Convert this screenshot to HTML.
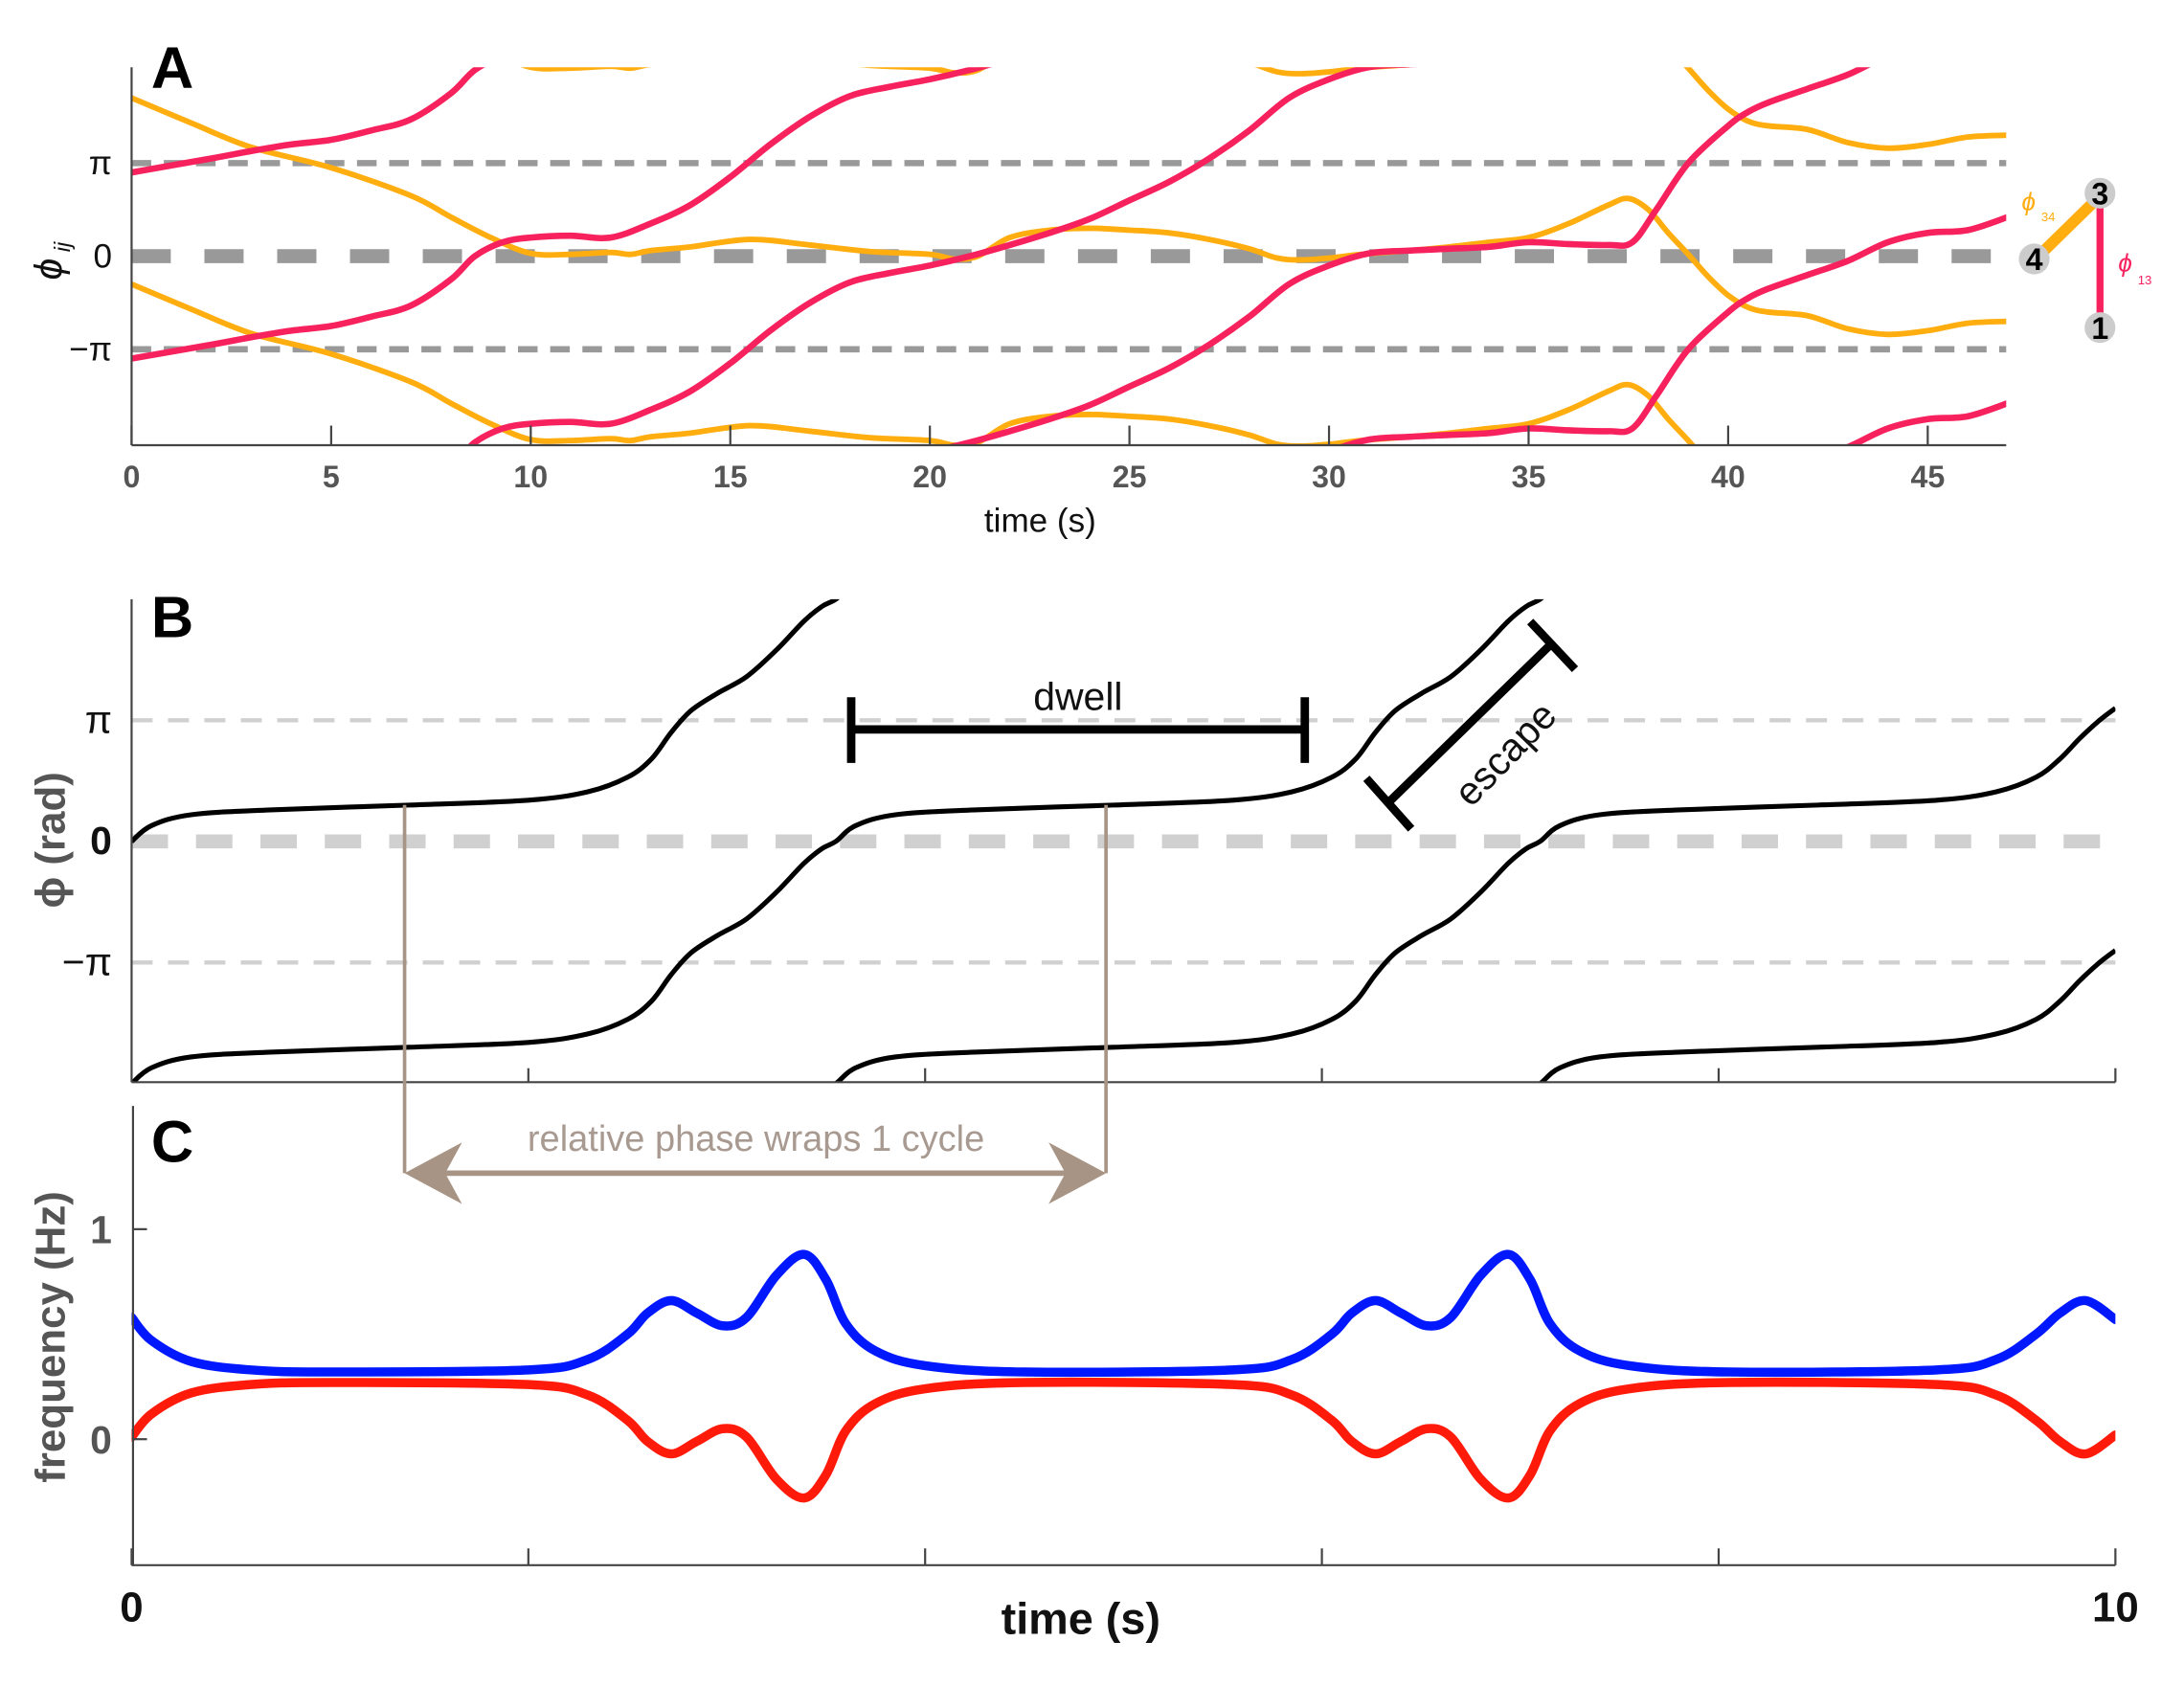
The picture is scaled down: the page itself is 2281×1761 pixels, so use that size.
<!DOCTYPE html>
<html><head><meta charset="utf-8">
<style>
html,body{margin:0;padding:0;background:#fff;width:2281px;height:1761px;overflow:hidden;}
svg{display:block;}
text{font-family:"Liberation Sans",sans-serif;}
</style></head>
<body>
<svg id="fig" width="2281" height="1761" viewBox="0 0 1560 1204.3" preserveAspectRatio="none" xmlns="http://www.w3.org/2000/svg" overflow="hidden">
<defs>
<clipPath id="clipA"><rect x="94" y="48" width="1339" height="270"/></clipPath>
<clipPath id="clipB"><rect x="94" y="428" width="1417" height="345"/></clipPath>
<clipPath id="clipC"><rect x="94" y="790" width="1417" height="328"/></clipPath>
</defs>
<g id="panelA"></g>
<g id="panelB"></g>
<g id="panelC"></g>
</svg>
<script>
// ---- Panel A data (time s, phase in units of pi, unwrapped) ----
const aRedT = [0,2,3,4,5,6,7,8,8.6,9.3,10,11,12,13,14,15,16,17,18,19,20,21,22,23,24,25,26,27,28,29,30,31,32,33,34,35,36,37,37.6,38.2,39,40,40.5,41,42,43,44,45,46,47];
const aRedV = [0.9,1.05,1.13,1.2,1.25,1.35,1.47,1.75,2.0,2.15,2.2,2.22,2.2,2.35,2.55,2.85,3.2,3.5,3.72,3.82,3.9,4.0,4.12,4.25,4.4,4.6,4.8,5.05,5.35,5.7,5.9,6.03,6.06,6.08,6.1,6.15,6.13,6.12,6.15,6.5,7.0,7.4,7.55,7.65,7.8,7.95,8.15,8.25,8.28,8.42];
const aOrT = [0,1.5,3,5,7,8,9,10,11,12,12.5,13,14,15.5,17,18.5,20,20.6,21.2,22,23,24,25,26,27,28,28.7,29.3,30,30.8,32,33,34,35,36,37,37.5,38,38.5,39,39.5,40,40.5,41,42,43,44,45,46,47];
const aOrV = [1.7,1.43,1.17,0.95,0.65,0.42,0.2,0.03,0.02,0.04,0.02,0.06,0.1,0.18,0.12,0.05,0.02,-0.03,0.0,0.2,0.28,0.3,0.28,0.25,0.18,0.08,-0.02,-0.04,-0.02,0.02,0.06,0.1,0.15,0.2,0.35,0.55,0.62,0.5,0.25,0.02,-0.22,-0.42,-0.55,-0.6,-0.64,-0.78,-0.84,-0.8,-0.72,-0.7];
const aXTicks = [0,5,10,15,20,25,30,35,40,45];
const aYTicks = [1,0,-1];
const aYTickLabels = ["\u03c0","0","\u2212\u03c0"];

// ---- Panel B data (time s, relative phase in units of pi, unwrapped) ----
const bT = [0,0.1,0.3,0.7,1.4,2.0,2.3,2.5,2.62,2.72,2.82,2.95,3.1,3.25,3.39,3.48,3.55,3.65,3.85,4.25,4.95,5.55,5.85,6.05,6.17,6.27,6.37,6.5,6.65,6.8,6.94,7.03,7.1,7.2,7.4,7.8,8.5,9.1,9.4,9.6,9.72,9.82,9.92,10.0];
const bPhi = [0,0.13,0.22,0.26,0.3,0.34,0.41,0.53,0.68,0.9,1.08,1.22,1.36,1.58,1.82,1.94,2.0,2.13,2.22,2.26,2.3,2.34,2.41,2.53,2.68,2.9,3.08,3.22,3.36,3.58,3.82,3.94,4.0,4.13,4.22,4.26,4.3,4.34,4.41,4.53,4.68,4.85,5.0,5.1];
const bYTicks = [1,0,-1];
const bYTickLabels = ["\u03c0","0","\u2212\u03c0"];
const bXTicks = [2,4,6,8];

// ---- Panel C data (time s, frequency Hz) ----
const cT = [0,0.1,0.3,0.6,1.0,2.0,2.3,2.5,2.6,2.72,2.85,2.98,3.1,3.25,3.39,3.5,3.6,3.75,4.0,4.5,5.55,5.85,6.05,6.15,6.27,6.4,6.53,6.65,6.8,6.94,7.05,7.15,7.3,7.55,8.05,9.1,9.4,9.6,9.72,9.85,10.0];
const cBlue = [0.58,0.47,0.37,0.33,0.32,0.33,0.38,0.5,0.6,0.66,0.6,0.54,0.58,0.78,0.88,0.76,0.55,0.42,0.35,0.32,0.33,0.38,0.5,0.6,0.66,0.6,0.54,0.58,0.78,0.88,0.76,0.55,0.42,0.35,0.32,0.33,0.38,0.5,0.6,0.66,0.57];
const cRed = [0.01,0.12,0.22,0.26,0.27,0.26,0.21,0.09,-0.01,-0.07,-0.01,0.05,0.01,-0.19,-0.28,-0.17,0.04,0.17,0.24,0.27,0.26,0.21,0.09,-0.01,-0.07,-0.01,0.05,0.01,-0.19,-0.28,-0.17,0.04,0.17,0.24,0.27,0.26,0.21,0.09,-0.01,-0.07,0.02];
const cYTicks = [1,0];
const cXTicks = [0,2,4,6,8,10];

const NS = "http://www.w3.org/2000/svg";
function mk(tag, attrs, parent){const e=document.createElementNS(NS,tag);for(const k in attrs)e.setAttribute(k,attrs[k]);if(parent)parent.appendChild(e);return e;}
function smooth(pts){
  let d="M"+pts[0][0].toFixed(2)+","+pts[0][1].toFixed(2);
  for(let i=0;i<pts.length-1;i++){
    const p0=pts[Math.max(0,i-1)],p1=pts[i],p2=pts[i+1],p3=pts[Math.min(pts.length-1,i+2)];
    const c1x=p1[0]+(p2[0]-p0[0])/6,c1y=p1[1]+(p2[1]-p0[1])/6;
    const c2x=p2[0]-(p3[0]-p1[0])/6,c2y=p2[1]-(p3[1]-p1[1])/6;
    d+=" C"+c1x.toFixed(2)+","+c1y.toFixed(2)+" "+c2x.toFixed(2)+","+c2y.toFixed(2)+" "+p2[0].toFixed(2)+","+p2[1].toFixed(2);
  }
  return d;
}
// keep wrapped copies inside a band just beyond the plot (clip hides the rest)
function clampPts(pts,top,bot){return pts.map(p=>[p[0],Math.max(top-25,Math.min(bot+25,p[1]))]);}
function visible(pts,top,bot){return pts.some(p=>p[1]>=top-3&&p[1]<=bot+3);}
function txt(parent,x,y,s,attrs){const t=mk("text",Object.assign({x:x,y:y},attrs),parent);t.textContent=s;return t;}

// ================= Panel A =================
const A=document.getElementById("panelA");
const axX=t=>94+t*28.51, axY=v=>183-v*66.5;
let l;
l=mk("line",{x1:94,x2:1433,y1:axY(0),y2:axY(0),stroke:"#999",'stroke-width':10,'stroke-dasharray':"28 24"},A);


[1,-1].forEach(v=>{
  const ln=mk("line",{x1:94,x2:1433,y1:axY(v),y2:axY(v),stroke:"#999",'stroke-width':4.5,'stroke-dasharray':"14 9"},A);
  
  
});
const gA=mk("g",{'clip-path':"url(#clipA)"},A);
[[aOrT,aOrV,"#ffad0f",4],[aRedT,aRedV,"#f7215d",4.5]].forEach(([T,V,col,w],si)=>{
  for(let k=-1;k<=5;k++){
    const raw=T.map((t,i)=>[axX(t),axY(V[i]-2*k)]);
    if(!visible(raw,48,318)) continue;
    const p=mk("path",{d:smooth(clampPts(raw,48,318)),fill:"none",stroke:col,'stroke-width':w,'stroke-linecap':"butt"},gA);
    
    
  }
});
mk("line",{x1:94,x2:94,y1:48,y2:318,stroke:"#444",'stroke-width':1.5},A);
mk("line",{x1:94,x2:1433,y1:318,y2:318,stroke:"#444",'stroke-width':1.5},A);
aXTicks.forEach(t=>{
  mk("line",{x1:axX(t),x2:axX(t),y1:318,y2:304,stroke:"#444",'stroke-width':1.5},A);
  const tl=txt(A,axX(t),348,String(t),{'text-anchor':"middle",'font-size':22,'font-weight':"bold",fill:"#555"});
  
  
});
aYTicks.forEach((v,i)=>{
  const tl=txt(A,80,axY(v)+8,aYTickLabels[i],{'text-anchor':"end",'font-size':24,fill:"#111",'font-family':"Liberation Serif, serif"});
  
  
});
let t1=txt(A,743,380,"time (s)",{'text-anchor':"middle",'font-size':24,fill:"#111"});

t1=txt(A,0,0,"\u03d5",{'font-size':28,'font-style':"italic",fill:"#111",'font-family':"Liberation Serif, serif",transform:"translate(44,200) rotate(-90)"});

txt(A,0,0,"ij",{'font-size':16,'font-style':"italic",fill:"#111",'font-family':"Liberation Serif, serif",transform:"translate(50,180) rotate(-90)"});
t1=txt(A,108,63,"A",{'font-size':42,'font-weight':"bold",fill:"#000"});

const net=mk("g",{},A);

mk("line",{x1:1500,y1:140,x2:1500,y2:232,stroke:"#f7215d",'stroke-width':5},net);
mk("line",{x1:1500,y1:140,x2:1455,y2:184,stroke:"#ffad0f",'stroke-width':8},net);
[[1500,138,"3"],[1453,185,"4"],[1500,234,"1"]].forEach(([x,y,s])=>{
  mk("circle",{cx:x,cy:y,r:11,fill:"#ccc"},net);
  txt(net,x,y+8,s,{'text-anchor':"middle",'font-size':22,'font-weight':"bold",fill:"#000"});
});
txt(net,1444,150,"\u03d5",{'font-size':18,'font-style':"italic",fill:"#ffad0f",'font-family':"Liberation Serif, serif"});
txt(net,1458,158,"34",{'font-size':9,fill:"#ffad0f"});
txt(net,1513,194,"\u03d5",{'font-size':18,'font-style':"italic",fill:"#f7215d",'font-family':"Liberation Serif, serif"});
txt(net,1527,203,"13",{'font-size':9,fill:"#f7215d"});

// ================= Panel B =================
const B=document.getElementById("panelB");
const bxX=t=>94+t*141.7, bxY=v=>601-v*86.5;
l=mk("line",{x1:94,x2:1511,y1:bxY(0),y2:bxY(0),stroke:"#d0d0d0",'stroke-width':10,'stroke-dasharray':"26 20"},B);

[1,-1].forEach(v=>{
  const ln=mk("line",{x1:94,x2:1511,y1:bxY(v),y2:bxY(v),stroke:"#d0d0d0",'stroke-width':3,'stroke-dasharray':"15 11"},B);
  
  
});
const gB=mk("g",{'clip-path':"url(#clipB)"},B);
for(let k=0;k<=4;k++){
  const raw=bT.map((t,i)=>[bxX(t),bxY(bPhi[i]-2*k)]);
  if(!visible(raw,428,773)) continue;
  const p=mk("path",{d:smooth(clampPts(raw,428,773)),fill:"none",stroke:"#000",'stroke-width':3.5},gB);
  
  
}
mk("line",{x1:94,x2:94,y1:428,y2:773,stroke:"#444",'stroke-width':1.5},B);
mk("line",{x1:94,x2:1511,y1:773,y2:773,stroke:"#444",'stroke-width':1.5},B);
mk("line",{x1:1511,x2:1511,y1:763,y2:773,stroke:"#444",'stroke-width':1.5},B);
bXTicks.forEach(t=>mk("line",{x1:bxX(t),x2:bxX(t),y1:773,y2:763,stroke:"#444",'stroke-width':1.5},B));
bYTicks.forEach((v,i)=>{
  const tl=txt(B,80,bxY(v)+9,bYTickLabels[i],{'text-anchor':"end",'font-size':28,fill:"#111",'font-family':"Liberation Serif, serif",'font-weight':v===0?"bold":"normal"});
  
});
t1=txt(B,0,0,"\u03d5 (rad)",{'font-size':30,'font-weight':"bold",fill:"#555",'text-anchor':"middle",transform:"translate(46,600) rotate(-90)"});

t1=txt(B,108,455,"B",{'font-size':42,'font-weight':"bold",fill:"#000"});

const dw=mk("g",{stroke:"#000",'stroke-width':6},B);

mk("line",{x1:608,x2:932,y1:521,y2:521},dw);
mk("line",{x1:608,x2:608,y1:498,y2:545},dw);
mk("line",{x1:932,x2:932,y1:498,y2:545},dw);
t1=txt(B,770,507,"dwell",{'text-anchor':"middle",'font-size':28,fill:"#111"});

const es=mk("g",{stroke:"#000",'stroke-width':6},B);

mk("line",{x1:992,x2:1108,y1:573,y2:460},es);
mk("line",{x1:976,x2:1008,y1:556,y2:592},es);
mk("line",{x1:1093,x2:1125,y1:444,y2:478},es);
t1=txt(B,0,0,"escape",{'text-anchor':"middle",'font-size':28,fill:"#111",transform:"translate(1082,545) rotate(-46)"});


// ================= Panel C =================
const C=document.getElementById("panelC");
const cxX=t=>94+t*141.7, cyY=v=>1028-v*150;
const gC=mk("g",{'clip-path':"url(#clipC)"},C);
[[cBlue,"#0018ff","blue-frequency-line"],[cRed,"#ff1a0a","red-frequency-line"]].forEach(([V,col,nm])=>{
  const pts=cT.map((t,i)=>[cxX(t),cyY(V[i])]);
  const p=mk("path",{d:smooth(pts),fill:"none",stroke:col,'stroke-width':6.5,'stroke-linecap':"round"},gC);
  
  
});
mk("line",{x1:95,x2:95,y1:790,y2:1118,stroke:"#444",'stroke-width':1.5},C);
mk("line",{x1:94,x2:1511,y1:1118,y2:1118,stroke:"#444",'stroke-width':1.5},C);
cXTicks.forEach(t=>mk("line",{x1:cxX(t),x2:cxX(t),y1:1118,y2:1106,stroke:"#444",'stroke-width':1.5},C));
cYTicks.forEach(v=>{
  mk("line",{x1:95,x2:105,y1:cyY(v),y2:cyY(v),stroke:"#444",'stroke-width':1.5},C);
  const tl=txt(C,80,cyY(v)+10,String(v),{'text-anchor':"end",'font-size':28,'font-weight':"bold",fill:"#555"});
  
});
[[0,"0"],[10,"10"]].forEach(([t,s])=>{
  const tl=txt(C,cxX(t),1158,s,{'text-anchor':"middle",'font-size':30,'font-weight':"bold",fill:"#111"});
  
});
t1=txt(C,772,1167,"time (s)",{'text-anchor':"middle",'font-size':32,'font-weight':"bold",fill:"#111"});

t1=txt(C,0,0,"frequency (Hz)",{'font-size':30,'font-weight':"bold",fill:"#555",'text-anchor':"middle",transform:"translate(46,955) rotate(-90)"});

t1=txt(C,108,830,"C",{'font-size':42,'font-weight':"bold",fill:"#000"});

const wr=mk("g",{stroke:"#a89484",'stroke-width':2.5,fill:"none"},C);

mk("line",{x1:289,x2:289,y1:575,y2:838},wr);
mk("line",{x1:790,x2:790,y1:575,y2:838},wr);
mk("line",{x1:310,x2:770,y1:838,y2:838,'stroke-width':4},wr);
mk("polygon",{points:"289,838 330,816 318,838 330,860",fill:"#a89484",stroke:"none"},wr);
mk("polygon",{points:"790,838 749,816 761,838 749,860",fill:"#a89484",stroke:"none"},wr);
t1=txt(C,540,822,"relative phase wraps 1 cycle",{'text-anchor':"middle",'font-size':26,fill:"#a89a90"});

</script>
</body></html>
